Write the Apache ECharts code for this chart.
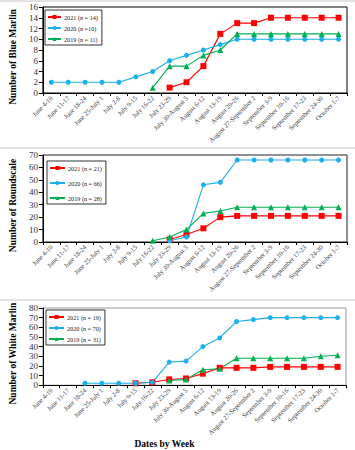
<!DOCTYPE html>
<html><head><meta charset="utf-8">
<script src="https://cdn.jsdelivr.net/npm/echarts@6/dist/echarts.min.js"></script>
<style>html,body{margin:0;padding:0;background:#fff}#c{width:355px;height:450px}</style>
</head><body><div id="c"></div><script>
const weeks = ['June 4-10','June 11-17','June 18-24','June 25-July 1','July 2-8','July 9-15','July 16-22','July 23-29','July 30-August 5','August 6-12','August 13-19','August 20-26','August 27-September 2','September 3-9','September 10-16','September 17-23','September 24-30','October 1-7'];
const _ = null;
// Blue Marlin
const blueMarlin2021 = [_,_,_,_,_,_,_,1,2,5,11,13,13,14,14,14,14,14];
const blueMarlin2020 = [2,2,2,2,2,3,4,6,7,8,9,10,10,10,10,10,10,10];
const blueMarlin2019 = [_,_,_,_,_,_,1,5,5,7,8,11,11,11,11,11,11,11];
// Roundscale
const roundscale2021 = [_,_,_,_,_,_,_,2,6,11,20,21,21,21,21,21,21,21];
const roundscale2020 = [_,_,_,_,_,_,_,1,4,46,48,66,66,66,66,66,66,66];
const roundscale2019 = [_,_,_,_,_,_,1,4,10,23,25,28,28,28,28,28,28,28];
// White Marlin
const whiteMarlin2021 = [_,_,_,_,_,2,3,6,7,12,18,18,18,19,19,19,19,19];
const whiteMarlin2020 = [_,_,2,2,2,2,3,24,25,40,49,66,68,70,70,70,70,70];
const whiteMarlin2019 = [_,_,_,_,_,_,_,5,6,16,17,28,28,28,28,28,30,31];

const names1 = ['2021 (n = 14)','2020 (n =10)','2019 (n = 11)'];
const names2 = ['2021 (n = 21)','2020 (n = 66)','2019 (n = 28)'];
const names3 = ['2021 (n = 19)','2020 (n = 70)','2019 (n = 31)'];
const yNames = ['Number of Blue Marlin','Number of Roundscale','Number of White Marlin'];
const yMax = [16,70,80];
const yInt = [2,10,10];

const FONT = "'Liberation Serif','Times New Roman',serif";
const RED='#ff0000', BLUE='#1ab0ea', GREEN='#00b050';
const grids = [
  {left:37, right:8, top:7, height:86},
  {left:38, right:8, top:155, height:87},
  {left:37, right:9, top:308, height:85}
];
const borderCols = ['#000','#222','#999'];

const xAxes = grids.map((g,i)=>({
  type:'category', gridIndex:i, data:weeks, boundaryGap:true,
  axisLine:{lineStyle:{color:'#000',width:1}},
  axisTick:{show:true, length:3, lineStyle:{color:'#000'}},
  axisLabel:{interval:0, rotate:45, fontSize:6.6, color:'#3a3a3a', fontFamily:FONT, margin:4},
  name: i===2 ? 'Dates by Week' : '',
  nameLocation:'middle', nameGap:41,
  nameTextStyle:{fontFamily:FONT, fontWeight:'bold', fontSize:9.5, color:'#000', padding:[0,60,0,0]}
}));
const yAxes = grids.map((g,i)=>({
  type:'value', gridIndex:i, min:0, max:yMax[i], interval:yInt[i],
  splitLine:{show:false},
  axisLine:{show:true, lineStyle:{color:'#000',width:1}},
  axisTick:{show:true, length:4, lineStyle:{color:'#000'}},
  axisLabel:{fontSize:9, color:'#333', fontFamily:FONT, margin:5},
  name:yNames[i], nameLocation:'middle', nameGap:21,
  nameTextStyle:{fontFamily:FONT, fontWeight:'bold', fontSize:9.5, color:'#000', padding:[0,14,0,0]}
}));

function mk(name, data, gi, color, symbol, size){
  return {name, type:'line', xAxisIndex:gi, yAxisIndex:gi, data,
    symbol, symbolSize:size, lineStyle:{color, width:1.1}, itemStyle:{color},
    animation:false};
}
const series = [];
const sets = [
  [names1,[blueMarlin2021,blueMarlin2020,blueMarlin2019]],
  [names2,[roundscale2021,roundscale2020,roundscale2019]],
  [names3,[whiteMarlin2021,whiteMarlin2020,whiteMarlin2019]]
];
sets.forEach(([nm,ds],gi)=>{
  series.push(mk(nm[0],ds[0],gi,RED,'rect',6));
  series.push(mk(nm[1],ds[1],gi,BLUE,'circle',5));
  series.push(mk(nm[2],ds[2],gi,GREEN,'triangle',6));
});

const legendPos = [
  {left:45, top:10, itemGap:5, width:13},
  {left:47, top:161, itemGap:9, width:15},
  {left:46, top:310, itemGap:5, width:15}
];
const legends = sets.map(([nm],gi)=>({
  data:nm, orient:'vertical', left:legendPos[gi].left, top:legendPos[gi].top,
  itemWidth:legendPos[gi].width, itemHeight:5, itemGap:legendPos[gi].itemGap,
  padding:[4,4,3,2], borderColor:'#000', borderWidth:0.8, backgroundColor:'#fff',
  textStyle:{fontSize:6.2, fontFamily:FONT, color:'#222', padding:[0,0,0,-2]},
  selectedMode:false
}));

const sepLines = [1,148,300].map(y=>({
  type:'line', shape:{x1:0,y1:y,x2:355,y2:y}, style:{stroke:'#d9d9d9', lineWidth:1.5}, silent:true
}));

const chart = echarts.init(document.getElementById('c'), null, {renderer:'svg'});
chart.setOption({
  animation:false,
  backgroundColor:'#fff',
  grid: grids.map((g,i)=>Object.assign({show:true, borderColor:borderCols[i], borderWidth:1, backgroundColor:'transparent'}, g)),
  xAxis:xAxes, yAxis:yAxes, legend:legends, series,
  graphic:sepLines
});
</script></body></html>
